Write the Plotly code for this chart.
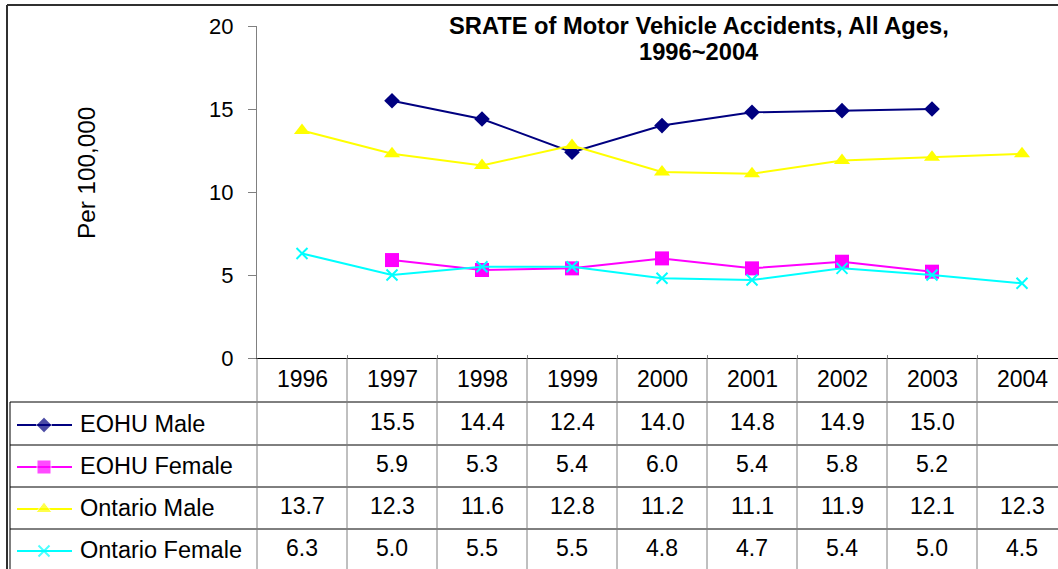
import plotly.graph_objects as go

# ---------------- data ----------------
years = ["1996", "1997", "1998", "1999", "2000", "2001", "2002", "2003", "2004"]
eohu_male = [None, 15.5, 14.4, 12.4, 14.0, 14.8, 14.9, 15.0, None]
eohu_female = [None, 5.9, 5.3, 5.4, 6.0, 5.4, 5.8, 5.2, None]
ontario_male = [13.7, 12.3, 11.6, 12.8, 11.2, 11.1, 11.9, 12.1, 12.3]
ontario_female = [6.3, 5.0, 5.5, 5.5, 4.8, 4.7, 5.4, 5.0, 4.5]
series_names = ["EOHU Male", "EOHU Female", "Ontario Male", "Ontario Female"]
y_ticks = [0, 5, 10, 15, 20]
title_lines = ["SRATE of Motor Vehicle Accidents, All Ages,", "1996~2004"]
y_title = "Per 100,000"

# ---------------- styling ----------------
W, H = 1058, 569
FONT = "Liberation Sans, Arial, sans-serif"
styles = [
    dict(color="#000080", symbol="diamond", size=12),
    dict(color="#FF00FF", symbol="square", size=14),
    dict(color="#FFFF00", symbol="triangle-up", size=14),
    dict(color="#00FFFF", symbol="x-thin-open", size=11),
]
all_series = [eohu_male, eohu_female, ontario_male, ontario_female]

# pixel helpers (margins are zero, so paper == full figure)
def px(x):
    return x / W

def py(y):
    return 1 - y / H

plot_left, plot_top, plot_bottom = 257, 26, 358
row_lines = [402, 445, 487, 529]
row_centers = [424, 466, 508, 550]
header_center = 379
n = len(years)
x_range = [-0.5, -0.5 + (W - plot_left) / 90.0]

fig = go.Figure()

# data traces
for name, vals, st in zip(series_names, all_series, styles):
    marker = dict(symbol=st["symbol"], size=st["size"], color=st["color"])
    if "open" in st["symbol"]:
        marker["line"] = dict(color=st["color"], width=2)
    fig.add_trace(go.Scatter(
        x=years, y=vals, name=name, mode="lines+markers",
        line=dict(color=st["color"], width=2),
        marker=marker, connectgaps=False, showlegend=False,
        xaxis="x", yaxis="y", cliponaxis=False,
    ))

# legend keys inside the data table (pixel-space overlay axes)
for i, (name, st) in enumerate(zip(series_names, styles)):
    yc = row_centers[i] + 1
    marker = dict(symbol=st["symbol"], size=[0, st["size"], 0], color=st["color"])
    if "open" in st["symbol"]:
        marker["line"] = dict(color=st["color"], width=2)
    fig.add_trace(go.Scatter(
        x=[17, 44, 72], y=[yc, yc, yc], mode="lines+markers",
        line=dict(color=st["color"], width=2), marker=marker,
        showlegend=False, hoverinfo="skip", xaxis="x2", yaxis="y2",
    ))

shapes = []
line_dark = dict(color="#000000", width=1)
line_grey = dict(color="#808080", width=1)

# outer chart border (left & top visible)
shapes.append(dict(type="line", xref="paper", yref="paper",
                   x0=px(7), x1=px(W + 5), y0=py(5), y1=py(5),
                   line=dict(color="#303030", width=2)))
shapes.append(dict(type="line", xref="paper", yref="paper",
                   x0=px(7), x1=px(7), y0=py(5), y1=py(H + 5),
                   line=dict(color="#303030", width=2)))

# table horizontal lines
for yl in row_lines:
    shapes.append(dict(type="line", xref="paper", yref="paper",
                       x0=px(10), x1=px(W + 5), y0=py(yl), y1=py(yl),
                       line=line_dark))
# table left border
shapes.append(dict(type="line", xref="paper", yref="paper",
                   x0=px(10), x1=px(10), y0=py(row_lines[0]), y1=py(H + 5),
                   line=line_dark))
# y-axis line continued through table
shapes.append(dict(type="line", xref="paper", yref="paper",
                   x0=px(plot_left), x1=px(plot_left), y0=py(plot_bottom), y1=py(H + 5),
                   line=line_grey))
# column boundaries (on the category axis)
for k in range(n):
    shapes.append(dict(type="line", xref="x", yref="paper",
                       x0=k + 0.5, x1=k + 0.5, y0=py(plot_bottom), y1=py(H + 5),
                       line=line_grey))

annotations = []
txt_font = dict(family=FONT, size=23, color="#000000")
# title
for i, t in enumerate(title_lines):
    annotations.append(dict(text="<b>" + t + "</b>", xref="paper", yref="paper",
                            x=px(699), y=py(26 + 26 * i), xanchor="center", yanchor="middle",
                            showarrow=False, font=dict(family=FONT, size=23.7, color="#000000")))
# y title
annotations.append(dict(text=y_title, xref="paper", yref="paper", x=px(86), y=py(173),
                        xanchor="center", yanchor="middle", textangle=-90, showarrow=False,
                        font=dict(family=FONT, size=24.3, color="#000000")))
# header row (years) - category index positions on the x axis
for k, yr in enumerate(years):
    annotations.append(dict(text=yr, xref="x", yref="paper", x=k, y=py(header_center),
                            xanchor="center", yanchor="middle", showarrow=False,
                            font=txt_font))
# data rows
for i, (name, vals) in enumerate(zip(series_names, all_series)):
    annotations.append(dict(text=name, xref="paper", yref="paper", x=px(78), y=py(row_centers[i]),
                            xanchor="left", yanchor="middle", showarrow=False,
                            font=dict(family=FONT, size=23.5, color="#000000")))
    for k, v in enumerate(vals):
        if v is None:
            continue
        annotations.append(dict(text=f"{v:.1f}", xref="x", yref="paper", x=k, y=py(row_centers[i] - 2),
                                xanchor="center", yanchor="middle", showarrow=False,
                                font=txt_font))

fig.update_layout(
    width=W, height=H,
    margin=dict(l=0, r=0, t=0, b=0, pad=0, autoexpand=False),
    paper_bgcolor="#FFFFFF", plot_bgcolor="rgba(0,0,0,0)",
    font=dict(family=FONT, color="#000000"),
    showlegend=False,
    xaxis=dict(type="category", domain=[px(plot_left), 1], range=x_range, automargin=False,
               showgrid=False, zeroline=False, showline=True, linecolor="#000000", linewidth=1,
               ticks="inside", tickson="boundaries", ticklen=3, tickcolor="#808080",
               showticklabels=False, anchor="y", fixedrange=True),
    yaxis=dict(domain=[py(plot_bottom), py(plot_top)], range=[0, 20], tickvals=y_ticks,
               automargin=False,
               showgrid=False, zeroline=False, showline=True, linecolor="#808080", linewidth=1,
               ticks="outside", ticklen=8, tickcolor="#808080", ticklabelstandoff=10,
               tickfont=dict(family=FONT, size=22, color="#000000"), anchor="x", fixedrange=True),
    xaxis2=dict(domain=[0, 1], range=[0, W], visible=False, anchor="y2", fixedrange=True,
                automargin=False),
    yaxis2=dict(domain=[0, 1], range=[H, 0], visible=False, anchor="x2", fixedrange=True,
                automargin=False),
    shapes=shapes,
    annotations=annotations,
)

fig.write_html("out.html", config={"displayModeBar": False, "staticPlot": True},
               post_script="document.body.style.margin='0';document.body.style.overflow='hidden';")
